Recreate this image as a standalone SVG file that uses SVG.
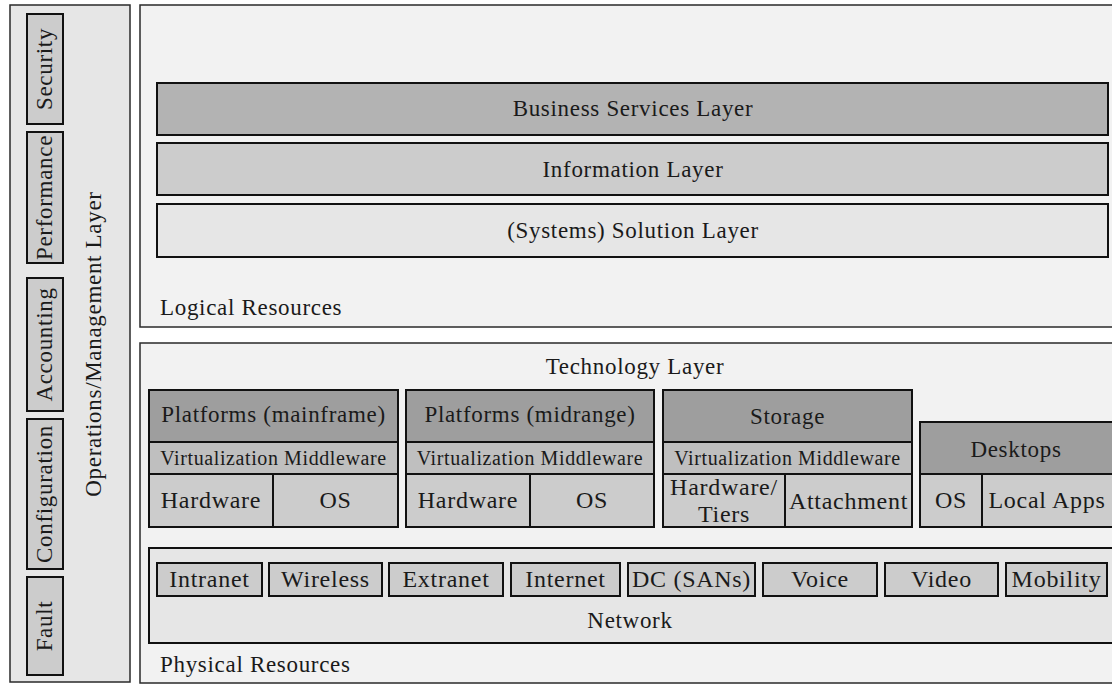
<svg xmlns="http://www.w3.org/2000/svg" width="1112" height="684" viewBox="0 0 1112 684">
  <style>
    text { font-family: "Liberation Serif", "Times New Roman", serif; fill: #1a1a1a; letter-spacing: 0.03em; }
    .t22 { font-size: 23px; }
    .t23 { font-size: 24px; }
    .t19 { font-size: 20px; }
    .mid { text-anchor: middle; }
    .panel { stroke: #2a2a2a; stroke-width: 1.5; }
    .box { stroke: #111; stroke-width: 2; }
    .bg-light { fill: #f2f2f2; }
    .bg-mid { fill: #e6e6e6; }
    .fill-c { fill: #cccccc; }
    .fill-b { fill: #b3b3b3; }
    .fill-vm { fill: #bfbfbf; }
    .fill-hd { fill: #9e9e9e; }
  </style>
  <rect width="1112" height="684" fill="#ffffff"/>

  <!-- Operations / management column -->
  <g id="operations-layer">
    <rect class="panel bg-mid" x="10" y="5" width="120" height="677"/>
    <text class="t22 mid" transform="translate(101,344) rotate(-90)">Operations/Management Layer</text>
  </g>
  <g id="op-security">
    <rect class="box fill-c" x="27" y="14" width="36" height="110"/>
    <text class="t22 mid" transform="translate(52,69) rotate(-90)">Security</text>
  </g>
  <g id="op-performance">
    <rect class="box fill-c" x="27" y="132" width="36" height="131"/>
    <text class="t22 mid" transform="translate(52,197.5) rotate(-90)">Performance</text>
  </g>
  <g id="op-accounting">
    <rect class="box fill-c" x="27" y="278" width="36" height="133"/>
    <text class="t22 mid" transform="translate(52,344.5) rotate(-90)">Accounting</text>
  </g>
  <g id="op-configuration">
    <rect class="box fill-c" x="27" y="419" width="36" height="150"/>
    <text class="t22 mid" transform="translate(52,494) rotate(-90)">Configuration</text>
  </g>
  <g id="op-fault">
    <rect class="box fill-c" x="27" y="577" width="36" height="98"/>
    <text class="t22 mid" transform="translate(52,626) rotate(-90)">Fault</text>
  </g>

  <!-- Logical resources -->
  <g id="logical-resources">
    <rect class="panel bg-light" x="140" y="5" width="975" height="322"/>
    <text class="t22" x="160" y="315">Logical Resources</text>
  </g>
  <g id="business-services">
    <rect class="box fill-b" x="157" y="83" width="951" height="52"/>
    <text class="t22 mid" x="633" y="116">Business Services Layer</text>
  </g>
  <g id="information-layer">
    <rect class="box fill-c" x="157" y="143" width="951" height="52"/>
    <text class="t22 mid" x="633" y="177">Information Layer</text>
  </g>
  <g id="solution-layer">
    <rect class="box bg-mid" x="157" y="204" width="951" height="53"/>
    <text class="t22 mid" x="633" y="238">(Systems) Solution Layer</text>
  </g>

  <!-- Physical resources -->
  <g id="physical-resources">
    <rect class="panel bg-light" x="140" y="343" width="975" height="340"/>
    <text class="t22 mid" x="635" y="374">Technology Layer</text>
    <text class="t22" x="160" y="672">Physical Resources</text>
  </g>

  <g id="platforms-mainframe">
    <rect class="box fill-hd" x="149" y="390" width="249" height="52"/>
    <rect class="box fill-vm" x="149" y="442" width="249" height="32"/>
    <rect class="box fill-c" x="149" y="474" width="124" height="53"/>
    <rect class="box fill-c" x="273" y="474" width="125" height="53"/>
    <text class="t22 mid" x="273.5" y="422">Platforms (mainframe)</text>
    <text class="t19 mid" x="273.5" y="465">Virtualization Middleware</text>
    <text class="t23 mid" x="211" y="508">Hardware</text>
    <text class="t23 mid" x="335.5" y="508">OS</text>
  </g>

  <g id="platforms-midrange">
    <rect class="box fill-hd" x="406" y="390" width="248" height="52"/>
    <rect class="box fill-vm" x="406" y="442" width="248" height="32"/>
    <rect class="box fill-c" x="406" y="474" width="124" height="53"/>
    <rect class="box fill-c" x="530" y="474" width="124" height="53"/>
    <text class="t22 mid" x="530" y="422">Platforms (midrange)</text>
    <text class="t19 mid" x="530" y="465">Virtualization Middleware</text>
    <text class="t23 mid" x="468" y="508">Hardware</text>
    <text class="t23 mid" x="592" y="508">OS</text>
  </g>

  <g id="storage">
    <rect class="box fill-hd" x="663" y="390" width="249" height="52"/>
    <rect class="box fill-vm" x="663" y="442" width="249" height="32"/>
    <rect class="box fill-c" x="663" y="474" width="122" height="53"/>
    <rect class="box fill-c" x="785" y="474" width="127" height="53"/>
    <text class="t22 mid" x="787.5" y="424">Storage</text>
    <text class="t19 mid" x="787.5" y="465">Virtualization Middleware</text>
    <text class="t23 mid" x="724" y="495">Hardware/</text>
    <text class="t23 mid" x="724" y="522">Tiers</text>
    <text class="t23 mid" x="848.5" y="509">Attachment</text>
  </g>

  <g id="desktops">
    <rect class="box fill-hd" x="920" y="422" width="194" height="52"/>
    <rect class="box fill-c" x="920" y="474" width="62" height="53"/>
    <rect class="box fill-c" x="982" y="474" width="132" height="53"/>
    <text class="t22 mid" x="1016" y="457">Desktops</text>
    <text class="t23 mid" x="951" y="508">OS</text>
    <text class="t23 mid" x="1047" y="508">Local Apps</text>
  </g>

  <g id="network">
    <rect class="box bg-mid" x="149" y="548" width="966" height="95"/>
    <text class="t22 mid" x="630" y="628">Network</text>
  </g>
  <g id="net-intranet">
    <rect class="box fill-c" x="157" y="563" width="105" height="33"/>
    <text class="t23 mid" x="209.5" y="587">Intranet</text>
  </g>
  <g id="net-wireless">
    <rect class="box fill-c" x="269" y="563" width="113" height="33"/>
    <text class="t23 mid" x="325.5" y="587">Wireless</text>
  </g>
  <g id="net-extranet">
    <rect class="box fill-c" x="389" y="563" width="114" height="33"/>
    <text class="t23 mid" x="446" y="587">Extranet</text>
  </g>
  <g id="net-internet">
    <rect class="box fill-c" x="511" y="563" width="109" height="33"/>
    <text class="t23 mid" x="565.5" y="587">Internet</text>
  </g>
  <g id="net-dc-sans">
    <rect class="box fill-c" x="628" y="563" width="127" height="33"/>
    <text class="t23 mid" x="691.5" y="587">DC (SANs)</text>
  </g>
  <g id="net-voice">
    <rect class="box fill-c" x="763" y="563" width="114" height="33"/>
    <text class="t23 mid" x="820" y="587">Voice</text>
  </g>
  <g id="net-video">
    <rect class="box fill-c" x="885" y="563" width="113" height="33"/>
    <text class="t23 mid" x="941.5" y="587">Video</text>
  </g>
  <g id="net-mobility">
    <rect class="box fill-c" x="1006" y="563" width="101" height="33"/>
    <text class="t23 mid" x="1056.5" y="587">Mobility</text>
  </g>
</svg>
